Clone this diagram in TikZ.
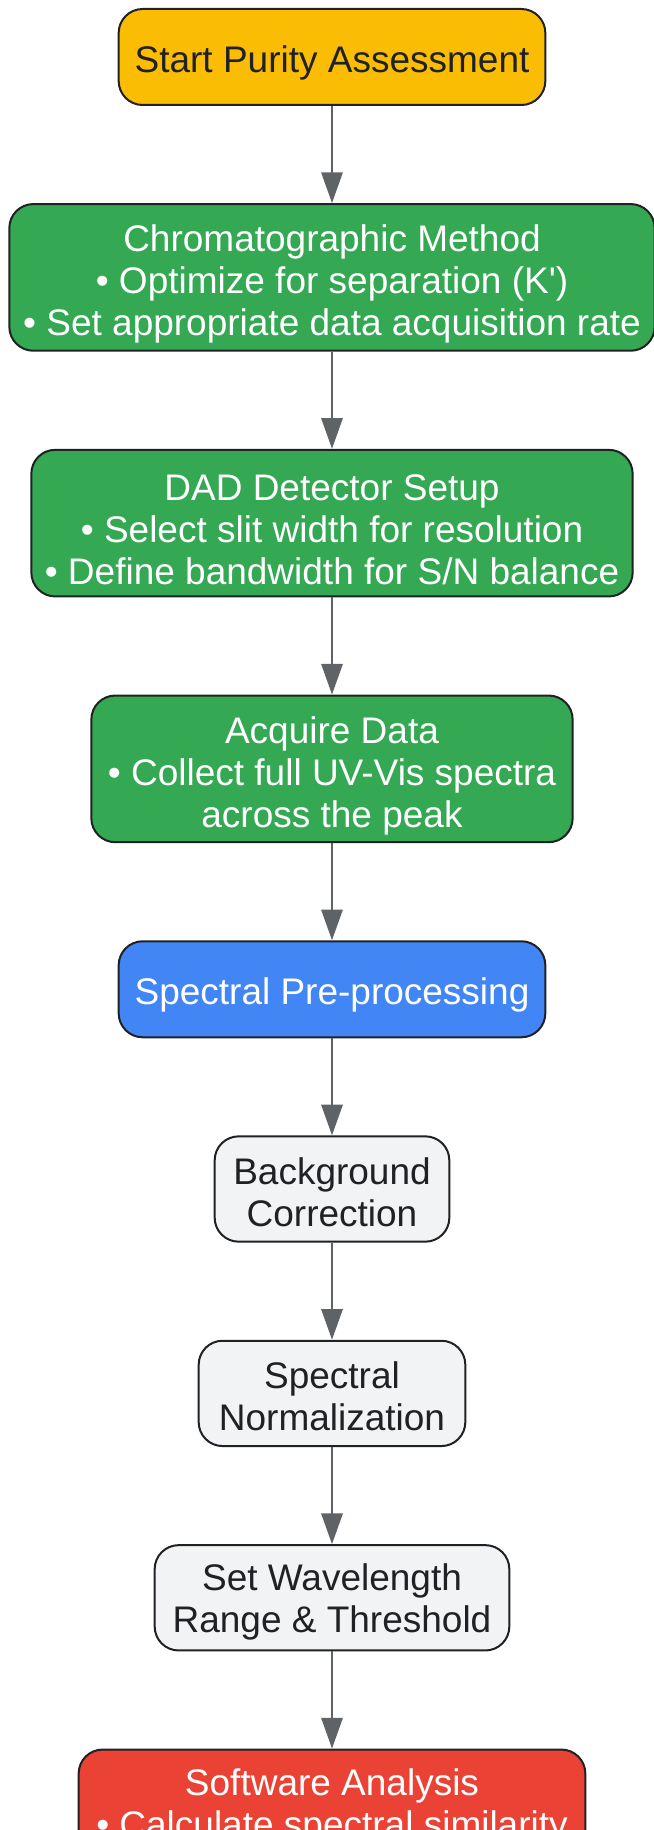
\documentclass[tikz,border=0pt]{standalone}
\usepackage{fontspec}
\setmainfont{Liberation Sans}
\usetikzlibrary{arrows.meta,positioning}

\definecolor{outline}{HTML}{202124}
\definecolor{flowgray}{HTML}{5F6368}
\definecolor{startyellow}{HTML}{FBBC04}
\definecolor{stepgreen}{HTML}{34A853}
\definecolor{prepblue}{HTML}{4285F4}
\definecolor{subgray}{HTML}{F1F3F4}
\definecolor{analysisred}{HTML}{EA4335}

% lowers the first line a little inside multi-line boxes
\newcommand{\firstline}[1]{\rule{0pt}{#1}}

\begin{document}
\begin{tikzpicture}[node distance=72.8pt,
  box/.style={draw=outline, line width=1.5pt, rounded corners=18pt, align=center,
    inner xsep=0pt, inner ysep=0pt, font=\fontsize{27.75}{31.5}\selectfont},
  startbox/.style={box, fill=startyellow, text=outline},
  greenbox/.style={box, fill=stepgreen, text=white},
  bluebox/.style={box, fill=prepblue, text=white},
  subbox/.style={box, fill=subgray, text=outline},
  redbox/.style={box, fill=analysisred, text=white},
  flow/.style={draw=flowgray, line width=1.5pt, -{Triangle[length=23pt,width=16pt]}}]
  \useasboundingbox (0,0) rectangle (489.75pt,-1372.5pt);

  \node[startbox, minimum width=320pt, minimum height=72pt] (start) at (249pt,-42.75pt) {\firstline{29pt}Start Purity Assessment};
  \node[greenbox, minimum width=484pt, minimum height=110pt] (method) [below=of start]
    {\firstline{30pt}Chromatographic Method\\ • Optimize for separation (K\textquotesingle)\\ • Set appropriate data acquisition rate};
  \node[greenbox, minimum width=451pt, minimum height=110pt] (detector) [below=of method]
    {\firstline{30pt}DAD Detector Setup\\ • Select slit width for resolution\\ • Define bandwidth for S/N balance};
  \node[greenbox, minimum width=361pt, minimum height=110pt] (acquire) [below=of detector]
    {\firstline{30pt}Acquire Data\\ • Collect full UV-Vis spectra\\ across the peak};
  \node[bluebox, minimum width=320pt, minimum height=72pt] (prep) [below=of acquire] {\firstline{29pt}Spectral Pre-processing};
  \node[subbox, minimum width=176pt, minimum height=79pt] (background) [below=of prep] {\firstline{25pt}Background\\ Correction};
  \node[subbox, minimum width=200pt, minimum height=79pt] (norm) [below=of background] {\firstline{25pt}Spectral\\ Normalization};
  \node[subbox, minimum width=266pt, minimum height=79pt] (range) [below=of norm] {\firstline{27pt}Set Wavelength\\ Range \& Threshold};
  \node[redbox, minimum width=380pt, minimum height=79pt] (software) [below=of range]
    {\firstline{27pt}Software Analysis\\ • Calculate spectral similarity};

  \path (start)      edge[flow] (method)
        (method)     edge[flow] (detector)
        (detector)   edge[flow] (acquire)
        (acquire)    edge[flow] (prep)
        (prep)       edge[flow] (background)
        (background) edge[flow] (norm)
        (norm)       edge[flow] (range)
        (range)      edge[flow] (software);
\end{tikzpicture}
\end{document}
